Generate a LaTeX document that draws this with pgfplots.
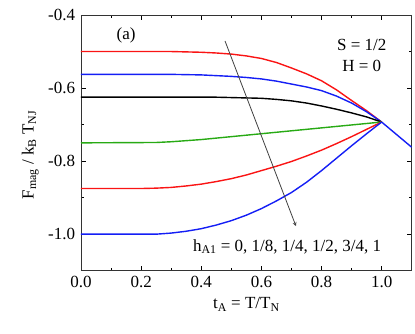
\documentclass[border=0pt]{standalone}
\usepackage{pgfplots}
\pgfplotsset{compat=1.18}
\usepackage{fontspec}
\setmainfont{Liberation Serif}
\definecolor{cred}{RGB}{250,20,20}
\definecolor{cblue}{RGB}{20,30,245}
\definecolor{cgreen}{RGB}{40,170,20}

\pgfplotstableread{
t F
0.00 -0.500
0.30 -0.500
0.35 -0.501
0.40 -0.502
0.45 -0.504
0.50 -0.507
0.55 -0.512
0.60 -0.519
0.65 -0.530
0.70 -0.545
0.75 -0.561
0.80 -0.580
0.85 -0.605
0.90 -0.634
0.95 -0.662
1.00 -0.693
}\hzero
\pgfplotstableread{
t F
0.00 -0.5625
0.30 -0.5625
0.40 -0.564
0.45 -0.566
0.50 -0.568
0.55 -0.571
0.60 -0.575
0.65 -0.581
0.70 -0.589
0.75 -0.597
0.80 -0.607
0.85 -0.622
0.90 -0.641
0.95 -0.665
1.00 -0.693
}\heighth
\pgfplotstableread{
t F
0.00 -0.625
0.45 -0.625
0.50 -0.626
0.55 -0.627
0.60 -0.628
0.65 -0.631
0.70 -0.635
0.75 -0.641
0.80 -0.649
0.85 -0.658
0.90 -0.668
0.95 -0.679
1.00 -0.693
}\hquarter
\pgfplotstableread{
t F
0.00 -0.750
0.25 -0.749
0.30 -0.747
0.35 -0.744
0.40 -0.741
0.50 -0.733
0.60 -0.725
0.70 -0.717
0.80 -0.709
0.90 -0.701
1.00 -0.693
}\hhalf
\pgfplotstableread{
t F
0.00 -0.875
0.20 -0.875
0.25 -0.874
0.30 -0.872
0.35 -0.868
0.40 -0.863
0.45 -0.856
0.50 -0.848
0.55 -0.838
0.60 -0.826
0.65 -0.814
0.70 -0.801
0.75 -0.786
0.80 -0.770
0.85 -0.752
0.90 -0.733
0.95 -0.713
1.00 -0.693
}\hthreeq
\pgfplotstableread{
t F
0.00 -1.000
0.25 -1.000
0.30 -0.997
0.35 -0.992
0.40 -0.985
0.45 -0.975
0.50 -0.963
0.55 -0.948
0.60 -0.930
0.65 -0.909
0.70 -0.886
0.75 -0.858
0.80 -0.826
0.85 -0.792
0.90 -0.758
0.95 -0.725
1.00 -0.693
}\hone
\pgfplotstableread{
t F
1.00 -0.693
1.10 -0.762
}\para

\begin{document}
\begin{tikzpicture}
\fontsize{17}{20}\selectfont
\begin{axis}[
    scale only axis,
    width=330.7pt, height=255.7pt,
    xmin=0, xmax=1.1, ymin=-1.1, ymax=-0.4,
    xtick={0,0.2,...,1.0}, ytick={-1.0,-0.8,-0.6,-0.4},
    minor xtick={0.1,0.3,0.5,0.7,0.9,1.1},
    minor ytick={-1.1,-0.9,-0.7,-0.5},
    tick align=inside,
    major tick length=5pt, minor tick length=3pt,
    tick style={black, line width=0.8pt},
    axis line style={line width=0.9pt, black!80},
    xticklabel style={/pgf/number format/.cd, fixed, fixed zerofill, precision=1},
    yticklabel style={/pgf/number format/.cd, fixed, fixed zerofill, precision=1},
    /pgf/number format/assume math mode=true,
    ticklabel style={font=\fontsize{17}{20}\selectfont},
    xlabel={t\textsubscript{A} = T/T\textsubscript{N}},
    ylabel={F\textsubscript{mag} / k\textsubscript{B} T\textsubscript{NJ}},
    label style={font=\fontsize{17}{20}\selectfont},
    xlabel style={yshift=2pt},
    ylabel style={yshift=-2pt, xshift=-12pt},
    every axis plot/.append style={line width=1.4pt, line join=round},
]
\addplot[cred] table[x=t, y=F] {\hzero};
\addplot[cblue] table[x=t, y=F] {\heighth};
\addplot[black] table[x=t, y=F] {\hquarter};
\addplot[cgreen] table[x=t, y=F] {\hhalf};
\addplot[cred] table[x=t, y=F] {\hthreeq};
\addplot[cblue] table[x=t, y=F] {\hone};
\addplot[cblue] table[x=t, y=F] {\para};
\draw[-stealth, line width=0.8pt, black!75] (axis cs:0.479,-0.471) -- (axis cs:0.715,-0.978);
\node at (axis cs:0.150,-0.457) {(a)};
\node at (axis cs:0.934,-0.482) {S = 1/2};
\node at (axis cs:0.934,-0.539) {H = 0};
\node[anchor=base west, inner sep=0pt] at (axis cs:0.372,-1.047) {h\textsubscript{A1} = 0, 1/8, 1/4, 1/2, 3/4, 1};
\end{axis}
\pgfresetboundingbox
\path (-81pt,-62.3pt) rectangle (334pt,270.7pt);
\end{tikzpicture}
\end{document}
